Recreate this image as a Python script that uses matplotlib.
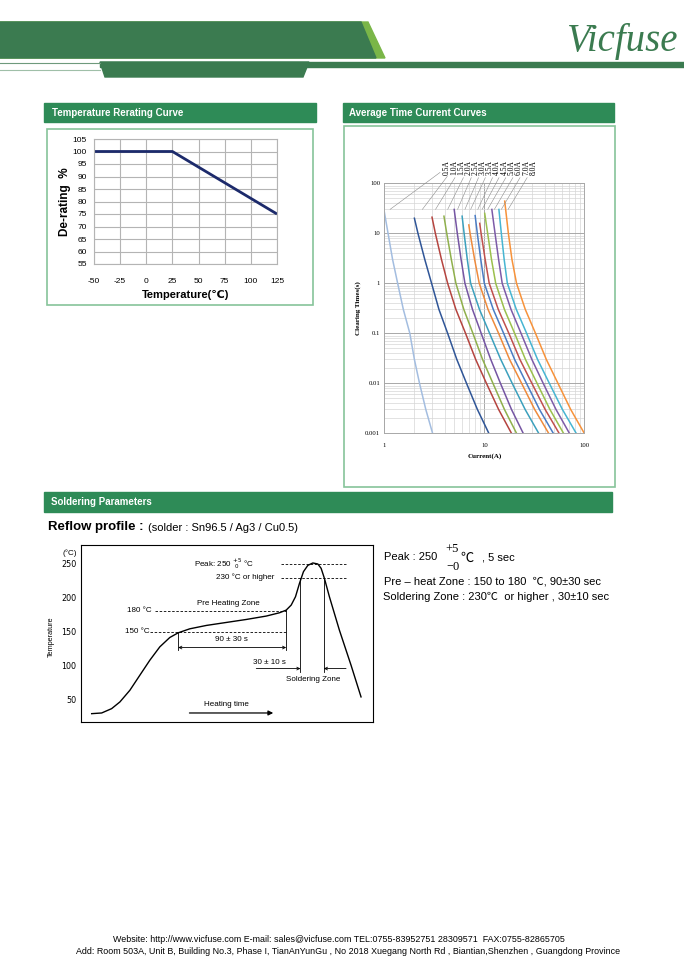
import matplotlib
matplotlib.use('Agg')
import numpy as np
import matplotlib.pyplot as plt
from matplotlib.patches import Polygon, Rectangle
from matplotlib.ticker import FixedLocator, FixedFormatter, NullFormatter, LogLocator
from matplotlib import font_manager

plt.rcParams['axes.unicode_minus'] = False

# ---------------- data ----------------
# temperature derating curve
derate_temp = [-50, 25, 125]
derate_pct = [100, 100, 75]
derate_xticks = [-50, -25, 0, 25, 50, 75, 100, 125]
derate_yticks = [55, 60, 65, 70, 75, 80, 85, 90, 95, 100, 105]

# average time-current curves (current A, clearing time s)
fuse_labels = ['0.5A', '1.0A', '1.5A', '2.0A', '2.5A', '3.0A', '3.5A',
               '4.0A', '4.5A', '5.0A', '6.0A', '7.0A', '8.0A']
t_grid = [10, 3, 1, 0.3, 0.1, 0.03, 0.01, 0.003, 0.001]
top_t = [27, 20, 21, 22, 30, 22, 14.7, 22.6, 15.8, 25, 30, 30, 44]
i_05 = [1.0, 1.09, 1.21, 1.36, 1.55, 1.8, 2.0, 2.25, 2.6, 3.04]
i_10 = [2.0, 2.17, 2.54, 2.97, 3.52, 4.3, 5.31, 6.64, 8.53, 11.1]
i_15 = [3.0, 3.24, 3.73, 4.3, 5.2, 6.49, 8.2, 10.5, 13.9, 18.7]
i_20 = [3.95, 4.21, 4.68, 5.2, 6.24, 7.69, 9.61, 12.2, 15.9, 21.0]
i_25 = [5.0, 5.37, 5.86, 6.4, 7.62, 9.31, 11.6, 14.5, 18.7, 24.5]
i_30 = [6.0, 6.28, 6.76, 7.3, 8.95, 11.3, 14.6, 19.0, 25.6, 35.0]
i_35 = [7.0, 7.21, 8.0, 8.9, 10.9, 13.9, 17.9, 23.6, 31.9, 44.0]
i_40 = [8.1, 8.51, 9.22, 10.0, 12.3, 15.6, 20.1, 26.4, 35.6, 49.0]
i_45 = [9.0, 9.29, 10.2, 11.2, 13.8, 17.6, 22.7, 29.9, 40.6, 56.0]
i_50 = [10.1, 10.8, 11.8, 13.0, 15.9, 20.1, 25.8, 33.7, 45.3, 62.0]
i_60 = [11.9, 12.8, 13.9, 15.1, 18.5, 23.3, 29.9, 38.8, 52.1, 71.0]
i_70 = [14.0, 14.8, 15.8, 17.0, 20.9, 26.5, 34.1, 44.7, 60.4, 83.0]
i_80 = [16.0, 17.4, 18.9, 21.0, 25.7, 32.5, 41.7, 54.5, 73.1, 100.0]
# where each label's leader line ends
leader_i = [1.14, 2.4, 3.25, 4.3, 5.4, 6.4, 7.3, 8.6, 9.5, 10.8, 12.6, 14.8, 17.3]
leader_t = 30
curve_colors = ['#a3bde0', '#2f5597', '#b5443f', '#8fb04c', '#7555a3', '#3ba0bd',
                '#ee8a3c', '#4a7cc4', '#c0504d', '#9bc04d', '#7d5ba8', '#46b5d2', '#f7923a']
ytc_ticks = [0.001, 0.01, 0.1, 1, 10, 100]
ytc_labels = ['0.001', '0.01', '0.1', '1', '10', '100']

# reflow profile (time in arbitrary units, temperature degC)
reflow_time = [11, 21, 31, 39.3, 49.3, 59.3, 69.3, 79.3, 89.3, 97.7, 109.3, 126, 146,
               166, 186, 199.3, 206, 211, 215.3, 219.3, 223.3, 227.7, 232.7, 237.7,
               241, 244.3, 249.3, 259.3, 271, 281]
reflow_temp = [29.3, 30.3, 36.7, 46.6, 63.8, 86, 108.1, 127.8, 141.6, 148.5, 154.4, 159.4,
               163.8, 168.2, 173.2, 178.1, 182, 189.4, 201.7, 221.4, 238.7, 248, 251.5,
               250, 243.6, 228.8, 201.7, 152.5, 100.7, 54]
reflow_yticks = [50, 100, 150, 200, 250]

# ---------------- style ----------------
W, H = 684, 960
DARK = '#3b7b50'
LIGHT = '#7ab648'
SEC = '#2e8b57'
BOX = '#86c49a'

names = {f.name for f in font_manager.fontManager.ttflist}
NARROW = 'Liberation Sans Narrow' if 'Liberation Sans Narrow' in names else 'Liberation Sans'
SANS = ['Liberation Sans', 'DejaVu Sans']
SERIF = ['Liberation Serif', 'DejaVu Serif']


def rect(x0, y0, x1, y1):
    return [x0 / W, 1 - y1 / H, (x1 - x0) / W, (y1 - y0) / H]


fig = plt.figure(figsize=(W / 100, H / 100), dpi=100)
bg = fig.add_axes([0, 0, 1, 1])
bg.set_xlim(0, W)
bg.set_ylim(H, 0)
bg.axis('off')

# page header
bg.add_patch(Polygon([(0, 22), (368, 22), (385, 58), (0, 58)], color=LIGHT))
bg.add_patch(Polygon([(0, 22), (361, 22), (376, 58), (0, 58)], color=DARK))
bg.add_patch(Rectangle((100, 62), 584, 5, color=DARK))
bg.add_patch(Polygon([(100, 62), (309, 62), (303, 77), (105, 77)], color=DARK))
bg.plot([0, 100], [62.5, 62.5], color='#6e9a7c', lw=0.8)
bg.plot([0, 100], [69.5, 69.5], color='#9fbfa8', lw=0.8)
bg.text(678, 51, 'Vicfuse', ha='right', va='baseline', fontsize=28, style='italic',
        family=SERIF, color=DARK)

# section headers and boxes
bg.add_patch(Rectangle((44, 103), 272, 19, color=SEC))
bg.text(52, 113, 'Temperature Rerating Curve', color='white', fontsize=7, fontweight='bold',
        va='center', family=SANS)
bg.add_patch(Rectangle((47, 129), 266, 176, fill=False, ec=BOX, lw=1.2))

bg.add_patch(Rectangle((343, 103), 271, 19, color=SEC))
bg.text(349, 113, 'Average Time Current Curves', color='white', fontsize=7, fontweight='bold',
        va='center', family=SANS)
bg.add_patch(Rectangle((344, 126), 271, 361, fill=False, ec=BOX, lw=1.2))

bg.add_patch(Rectangle((44, 492), 568, 20, color=SEC))
bg.text(51, 502, 'Soldering Parameters', color='white', fontsize=7, fontweight='bold',
        va='center', family=SANS)
bg.text(48, 527, 'Reflow profile :', fontsize=9.5, fontweight='bold', va='center', family=SANS)
bg.text(148, 528, '(solder : Sn96.5 / Ag3 / Cu0.5)', fontsize=8, va='center', family=SANS)

# reflow notes
bg.text(384, 557.5, 'Peak : 250', fontsize=8, va='center', family=SANS)
bg.text(445, 549, '+5', fontsize=9, va='center', family=SERIF)
bg.text(460, 558, '℃', fontsize=9.5, va='center', family=['Noto Sans CJK SC', 'DejaVu Sans'])
bg.text(446, 567, '−0', fontsize=9, va='center', family=SERIF)
bg.text(482, 557.5, ', 5 sec', fontsize=8, va='center', family=SANS)
bg.text(384, 582, 'Pre – heat Zone : 150 to 180  ℃, 90±30 sec', fontsize=8, va='center',
        family=['Liberation Sans', 'Noto Sans CJK SC'])
bg.text(383, 597, 'Soldering Zone : 230℃  or higher , 30±10 sec', fontsize=8, va='center',
        family=['Liberation Sans', 'Noto Sans CJK SC'])

# footer
bg.text(339, 940, 'Website: http://www.vicfuse.com E-mail: sales@vicfuse.com '
        'TEL:0755-83952751 28309571  FAX:0755-82865705', fontsize=6.4, ha='center',
        va='center', family=SANS)
bg.text(348, 951, 'Add: Room 503A, Unit B, Building No.3, Phase I, TianAnYunGu , No 2018 '
        'Xuegang North Rd , Biantian,Shenzhen , Guangdong Province', fontsize=6.4,
        ha='center', va='center', family=SANS)

# ---------------- derating curve ----------------
ax1 = fig.add_axes(rect(94, 139, 277, 264))
ax1.plot(derate_temp, derate_pct, color='#1c2a6b', lw=2, solid_capstyle='butt')
ax1.set_xlim(-50, 125)
ax1.set_ylim(55, 105)
ax1.set_xticks(derate_xticks)
ax1.set_yticks(derate_yticks)
ax1.grid(True, color='#b4b4b4', lw=0.8)
ax1.tick_params(length=0, labelsize=6)
ax1.tick_params(axis='y', pad=5)
ax1.tick_params(axis='x', pad=10)
for lab in ax1.get_xticklabels() + ax1.get_yticklabels():
    lab.set_family(NARROW)
for sp in ax1.spines.values():
    sp.set_color('#b4b4b4')
    sp.set_linewidth(0.8)
ax1.set_ylabel('De-rating  %', fontsize=8.5, fontweight='bold', family=SANS, labelpad=1.5)
ax1.set_xlabel('Temperature(℃)', fontsize=8, fontweight='bold', labelpad=4,
               family=[NARROW, 'DejaVu Sans'])

# ---------------- time current curves ----------------
ax2 = fig.add_axes(rect(384.3, 183.3, 584.3, 433.3))
curves_i = [i_05, i_10, i_15, i_20, i_25, i_30, i_35, i_40, i_45, i_50, i_60, i_70, i_80]
for ci, tt, col in zip(curves_i, top_t, curve_colors):
    ax2.plot(ci, [tt] + t_grid, color=col, lw=1.1)
ax2.set_xscale('log')
ax2.set_yscale('log')
ax2.set_xlim(1, 100)
ax2.set_ylim(0.001, 100)
ax2.xaxis.set_major_locator(FixedLocator([1, 10, 100]))
ax2.xaxis.set_major_formatter(FixedFormatter(['1', '10', '100']))
ax2.yaxis.set_major_locator(FixedLocator(ytc_ticks))
ax2.yaxis.set_major_formatter(FixedFormatter(ytc_labels))
ax2.xaxis.set_minor_locator(LogLocator(base=10, subs=np.arange(2, 10)))
ax2.yaxis.set_minor_locator(LogLocator(base=10, subs=np.arange(2, 10)))
ax2.xaxis.set_minor_formatter(NullFormatter())
ax2.yaxis.set_minor_formatter(NullFormatter())
ax2.grid(True, which='major', color='#a8a8a8', lw=0.7)
ax2.grid(True, which='minor', color='#d6d6d6', lw=0.5)
ax2.tick_params(which='both', length=0)
ax2.tick_params(axis='y', pad=3, labelsize=4.8)
ax2.tick_params(axis='x', pad=7, labelsize=4.8)
for lab in ax2.get_xticklabels() + ax2.get_yticklabels():
    lab.set_family(SERIF)
for sp in ax2.spines.values():
    sp.set_color('#a8a8a8')
    sp.set_linewidth(0.7)
ax2.set_ylabel('Clearing Times(s)', fontsize=5, fontweight='bold', family=SERIF, labelpad=3)
ax2.set_xlabel('Current(A)', fontsize=5, fontweight='bold', family=SERIF, labelpad=4)

label_x = np.linspace(0.313, 0.745, len(fuse_labels))
for lab, fx, li in zip(fuse_labels, label_x, leader_i):
    ax2.annotate(lab, xy=(li, leader_t), xycoords='data', xytext=(fx, 1.034),
                 textcoords='axes fraction', rotation=90, ha='center', va='bottom',
                 fontsize=5.5, family=SERIF, annotation_clip=False,
                 arrowprops=dict(arrowstyle='-', color='#8c8c8c', lw=0.4,
                                 shrinkA=0, shrinkB=0))

# ---------------- reflow profile ----------------
ax3 = fig.add_axes(rect(80.7, 545, 373, 722))
ax3.plot(reflow_time, reflow_temp, color='black', lw=1.0)
ax3.set_xlim(0, 293)
ax3.set_ylim(17, 278)
ax3.set_xticks([])
ax3.set_yticks(reflow_yticks)
ax3.tick_params(length=0, labelsize=5.8, pad=3)
for sp in ax3.spines.values():
    sp.set_linewidth(0.8)
fs = 5.8
dash = dict(color='black', lw=0.6, ls=(0, (3, 2)))
solid = dict(color='black', lw=0.6)
ax3.plot([201, 266], [250, 250], **dash)
ax3.plot([201, 266], [230, 230], **dash)
ax3.plot([74, 206], [180, 180], **dash)
ax3.plot([69, 206], [150, 150], **dash)
ax3.plot([97.7, 97.7], [150, 123], **solid)
ax3.plot([206, 206], [182, 123], **solid)
ax3.plot([220.3, 220.3], [230, 91], **solid)
ax3.plot([243.7, 243.7], [230, 91], **solid)
ax3.annotate('', xy=(97.7, 126.8), xytext=(206, 126.8),
             arrowprops=dict(arrowstyle='<->', lw=0.6, mutation_scale=5, shrinkA=0, shrinkB=0))
ax3.annotate('', xy=(220.3, 95.8), xytext=(176, 95.8),
             arrowprops=dict(arrowstyle='->', lw=0.6, mutation_scale=5, shrinkA=0, shrinkB=0))
ax3.annotate('', xy=(243.7, 95.8), xytext=(266, 95.8),
             arrowprops=dict(arrowstyle='->', lw=0.6, mutation_scale=5, shrinkA=0, shrinkB=0))
ax3.annotate('', xy=(193, 30.3), xytext=(109, 30.3),
             arrowprops=dict(arrowstyle='-|>', lw=0.9, mutation_scale=7, color='black',
                             shrinkA=0, shrinkB=0))
ax3.text(151, 138, '90 ± 30 s', fontsize=fs, ha='center', va='center', family=SANS)
ax3.text(189, 104, '30 ± 10 s', fontsize=fs, ha='center', va='center', family=SANS)
ax3.text(233, 80, 'Soldering Zone', fontsize=fs, ha='center', va='center', family=SANS)
ax3.text(146, 43, 'Heating time', fontsize=fs, ha='center', va='center', family=SANS)
ax3.text(148, 192, 'Pre Heating Zone', fontsize=fs, ha='center', va='center', family=SANS)
ax3.text(71, 181, '180 °C', fontsize=fs, ha='right', va='center', family=SANS)
ax3.text(69, 151, '150 °C', fontsize=fs, ha='right', va='center', family=SANS)
ax3.text(173, 251, r'Peak: 250 $^{+5}_{\ 0}$ °C', fontsize=fs, ha='right', va='center',
         family=SANS)
ax3.text(194, 230, '230 °C or higher', fontsize=fs, ha='right', va='center', family=SANS)
ax3.text(-11, 266, '(°C)', fontsize=fs, ha='center', va='center', family=SANS, clip_on=False)
ax3.text(-29, 143, 'Temperature', fontsize=fs - 0.6, rotation=90, ha='center', va='center',
         family=SANS, clip_on=False)

fig.savefig('out.png', dpi=100)
